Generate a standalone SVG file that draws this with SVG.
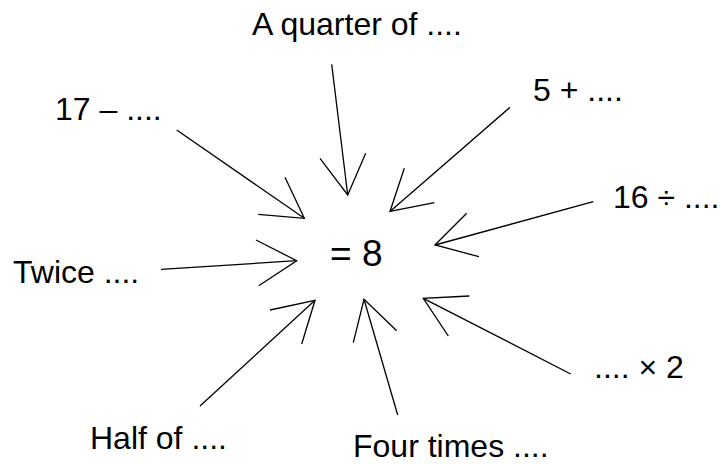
<svg xmlns="http://www.w3.org/2000/svg" width="721" height="465" viewBox="0 0 721 465">
<style>
text{font-family:"Liberation Sans",Arial,sans-serif;font-size:32px;fill:#000}
.c{font-size:37px}
line,polyline{stroke:#000;stroke-width:1.3;fill:none}
</style>
<rect width="721" height="465" fill="#fff"/>
<g id="center"><text class="c" x="330" y="266">= 8</text></g>
<g id="n-quarter"><text x="252" y="35">A quarter of ....</text></g>
<g id="n-17"><text x="55" y="120">17 – ....</text></g>
<g id="n-5"><text x="533" y="101">5 + ....</text></g>
<g id="n-16"><text x="613" y="208">16 ÷ ....</text></g>
<g id="n-twice"><text x="13" y="283">Twice ....</text></g>
<g id="n-half"><text x="90" y="449">Half of ....</text></g>
<g id="n-four"><text x="353" y="457">Four times ....</text></g>
<g id="n-x2"><text x="594" y="378">.... × 2</text></g>
<g id="connectors">
<line x1="176.7" y1="130" x2="304.3" y2="218.3"/>
<polyline points="285,177.3 304.3,218.3 258.3,214.3"/>
<line x1="331.7" y1="64.3" x2="347.7" y2="195"/>
<polyline points="320,158.3 347.7,195 365.7,153.3"/>
<line x1="510" y1="107.3" x2="390" y2="211.5"/>
<polyline points="404.3,168.3 390,211.5 434.3,202.7"/>
<line x1="593.3" y1="201.7" x2="435" y2="245"/>
<polyline points="466.7,213.3 435,245 479,256.7"/>
<line x1="161" y1="269.3" x2="296.7" y2="260.7"/>
<polyline points="256,240 296.7,260.7 258.7,285.7"/>
<line x1="200" y1="406" x2="315" y2="300.3"/>
<polyline points="270,310 315,300.3 301.7,344"/>
<line x1="397.7" y1="415" x2="364" y2="299.3"/>
<polyline points="353.3,342.7 364,299.3 396.7,330.7"/>
<line x1="570.7" y1="374" x2="423.3" y2="298.3"/>
<polyline points="469.3,296 423.3,298.3 448.3,336"/>
</g>
</svg>
